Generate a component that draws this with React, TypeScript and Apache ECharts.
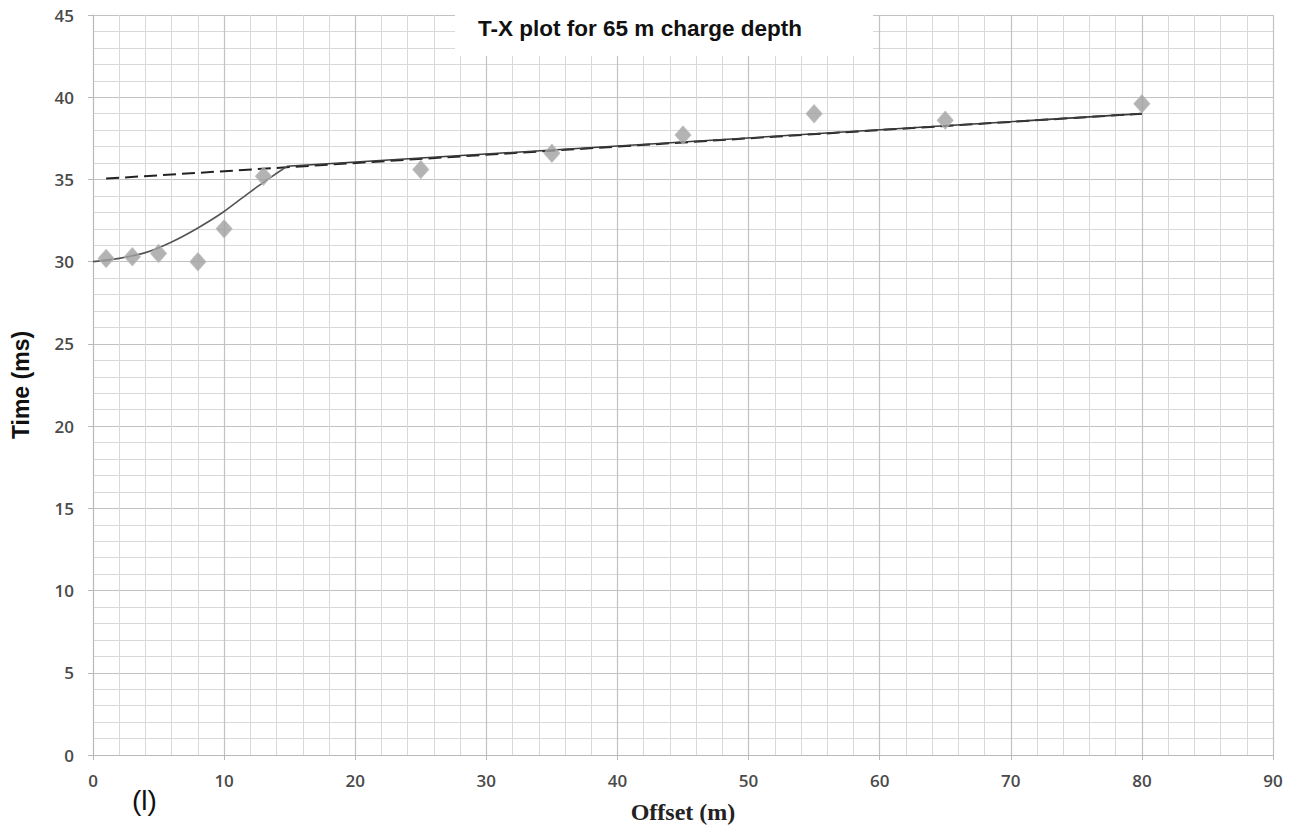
import React, { useEffect, useRef } from "react";
import * as echarts from "echarts";

const offsets = [1, 3, 5, 8, 10, 13, 25, 35, 45, 55, 65, 80];
const times = [30.2, 30.3, 30.5, 30.0, 32.0, 35.2, 35.6, 36.6, 37.7, 39.0, 38.6, 39.6];

const curveX = [0, 2, 4, 6, 8, 10, 12, 13.5, 14.8];
const curveY = [30.0, 30.2, 30.55, 31.2, 32.05, 33.05, 34.25, 35.1, 35.8];

const dashedX = [1, 80];
const dashedY = [35.05, 39.0];

const solidX = [14.8, 80];
const solidY = [35.8, 39.0];

const xTicks = { min: 0, max: 90, interval: 10 };
const yTicks = { min: 0, max: 45, interval: 5 };

const zip = (a: number[], b: number[]) => a.map((v, i) => [v, b[i]]);

export default function App() {
  const ref = useRef<HTMLDivElement>(null);
  useEffect(() => {
    if (!ref.current) return;
    const chart = echarts.init(ref.current, undefined, { renderer: "svg" });
    const majorLine = { show: true, lineStyle: { color: "#c2c2c2", width: 1.2 } };
    const minorLine = { show: true, lineStyle: { color: "#d8d8d8", width: 1 } };
    const axisLabel = {
      color: "#4a4a4a",
      fontFamily: "Open Sans",
      fontWeight: 600,
      fontSize: 17,
    };
    chart.setOption({
      animation: false,
      backgroundColor: "#ffffff",
      grid: { left: 93, right: 23, top: 15, bottom: 75 },
      xAxis: {
        type: "value",
        min: xTicks.min,
        max: xTicks.max,
        interval: xTicks.interval,
        axisLine: { show: true, lineStyle: { color: "#b8b8b8" } },
        axisTick: { show: true, length: 5, lineStyle: { color: "#b8b8b8" } },
        axisLabel: { ...axisLabel, margin: 17 },
        splitLine: majorLine,
        minorTick: { show: false, splitNumber: 5 },
        minorSplitLine: minorLine,
        name: "Offset (m)",
        nameLocation: "middle",
        nameGap: 45,
        nameTextStyle: {
          fontFamily: "Liberation Serif",
          fontWeight: "bold",
          fontSize: 24,
          color: "#222",
        },
      },
      yAxis: {
        type: "value",
        min: yTicks.min,
        max: yTicks.max,
        interval: yTicks.interval,
        axisLine: { show: true, lineStyle: { color: "#b8b8b8" } },
        axisTick: { show: true, length: 5, lineStyle: { color: "#b8b8b8" } },
        axisLabel: { ...axisLabel, margin: 19 },
        splitLine: majorLine,
        minorTick: { show: false, splitNumber: 5 },
        minorSplitLine: minorLine,
        name: "Time (ms)",
        nameLocation: "middle",
        nameGap: 61,
        nameTextStyle: {
          fontFamily: "Liberation Sans",
          fontWeight: "bold",
          fontSize: 23,
          color: "#111",
        },
      },
      graphic: [
        {
          type: "rect",
          shape: { x: 455, y: 6, width: 418, height: 50 },
          style: { fill: "#ffffff" },
          z: 100,
        },
        {
          type: "text",
          x: 640,
          y: 28,
          style: {
            text: "T-X plot for 65 m charge depth",
            fontFamily: "Liberation Sans",
            fontWeight: "bold",
            fontSize: 22.5,
            fill: "#111",
            align: "center",
            verticalAlign: "middle",
          },
          z: 101,
        },
        {
          type: "text",
          x: 132,
          y: 800,
          style: {
            text: "(l)",
            fontFamily: "Liberation Sans",
            fontSize: 28,
            fill: "#111",
            align: "left",
            verticalAlign: "middle",
          },
        },
      ],
      series: [
        {
          type: "line",
          data: zip(dashedX, dashedY),
          symbol: "none",
          lineStyle: { color: "#222", width: 2, type: [13, 6] },
          z: 3,
        },
        {
          type: "line",
          data: zip(solidX, solidY),
          symbol: "none",
          lineStyle: { color: "#3a3a3a", width: 1.6 },
          z: 3,
        },
        {
          type: "line",
          data: zip(curveX, curveY),
          symbol: "none",
          smooth: 0.2,
          lineStyle: { color: "#555", width: 1.6 },
          z: 3,
        },
        {
          type: "scatter",
          data: zip(offsets, times),
          symbol: "diamond",
          symbolSize: [16, 18],
          itemStyle: { color: "#a0a0a0", borderColor: "#b8b8b8", borderWidth: 1 },
          z: 4,
        },
      ],
    });
    return () => chart.dispose();
  }, []);
  return (
    <div
      ref={ref}
      style={{ position: "fixed", left: 0, top: 0, width: 1296, height: 830 }}
    />
  );
}
